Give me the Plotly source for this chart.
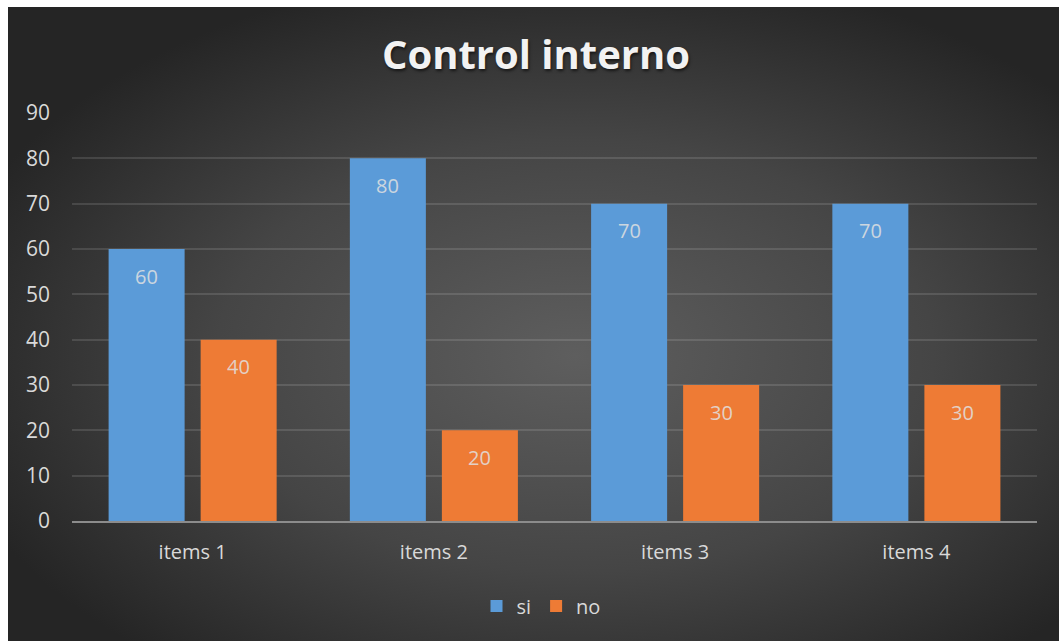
import base64
import plotly.graph_objects as go

categories = ["items 1", "items 2", "items 3", "items 4"]
si_values = [60, 80, 70, 70]
no_values = [40, 20, 30, 30]
y_ticks = [0, 10, 20, 30, 40, 50, 60, 70, 80, 90]
title_text = "Control interno"

W, H = 1059, 641
ML, MR, MT, MB = 72, 22, 113, 120
PW, PH = W - ML - MR, H - MT - MB
BARGAP, GROUPGAP = 0.237, 0.174

svg = (
    '<svg xmlns="http://www.w3.org/2000/svg" width="1000" height="600" preserveAspectRatio="none" viewBox="0 0 1000 600">'
    '<defs><radialGradient id="g" cx="54%" cy="55%" r="62%">'
    '<stop offset="0%" stop-color="#5e5e5e"/>'
    '<stop offset="55%" stop-color="#454545"/>'
    '<stop offset="100%" stop-color="#252525"/>'
    '</radialGradient></defs>'
    '<rect width="1000" height="600" fill="url(#g)"/></svg>'
)
bg_src = "data:image/svg+xml;base64," + base64.b64encode(svg.encode()).decode()

fig = go.Figure()
fig.add_trace(go.Bar(
    name="si", x=categories, y=si_values,
    marker=dict(color="#5b9bd8", line=dict(width=0)),
    textposition="none",
))
fig.add_trace(go.Bar(
    name="no", x=categories, y=no_values,
    marker=dict(color="#ee7b35", line=dict(width=0)),
    textposition="none",
))

slot = PW / len(categories) * (1 - BARGAP) / 2
for cat, s, n in zip(categories, si_values, no_values):
    for val, sh in ((s, -slot / 2), (n, slot / 2)):
        fig.add_annotation(
            x=cat, y=val, xref="x", yref="y", text=str(val), showarrow=False,
            xshift=sh, yshift=-27, yanchor="middle",
            font=dict(family="Open Sans", size=20, color="rgba(225,225,225,0.85)"),
        )

fig.update_layout(
    width=W, height=H,
    margin=dict(l=ML, r=MR, t=MT, b=MB, pad=0),
    paper_bgcolor="white",
    plot_bgcolor="rgba(0,0,0,0)",
    barmode="group", bargap=BARGAP, bargroupgap=GROUPGAP,
    title=dict(
        text=title_text, x=536 / W, xanchor="center", xref="container",
        y=1 - 55 / H, yanchor="middle", yref="container",
        font=dict(family="Open Sans", size=40, weight="bold", color="#f2f2f2",
                  shadow="1px 2px 3px rgba(0,0,0,0.6)"),
    ),
    font=dict(family="Open Sans", size=21, color="#d9d9d9"),
    showlegend=True,
    legend=dict(
        orientation="h", xref="container", yref="container",
        x=541 / W, xanchor="center", y=1 - 606 / H, yanchor="middle",
        font=dict(family="Open Sans", size=20, color="#d9d9d9"),
        bgcolor="rgba(0,0,0,0)", itemwidth=30, tracegroupgap=0,
    ),
    xaxis=dict(
        showgrid=False, showline=True, linecolor="#8c8c8c", linewidth=2,
        ticks="", ticklabelstandoff=12, zeroline=False,
        tickfont=dict(size=20),
    ),
    yaxis=dict(
        range=[0, 90], tickvals=y_ticks, showgrid=True,
        gridcolor="rgba(255,255,255,0.12)", gridwidth=1.5,
        zeroline=False, showline=False, ticks="", ticklabelstandoff=21,
    ),
    images=[dict(
        source=bg_src, xref="paper", yref="paper",
        x=(8 - ML) / PW, y=1 + (MT - 7) / PH,
        sizex=(W - 8) / PW, sizey=(H - 7) / PH,
        sizing="stretch", layer="below", xanchor="left", yanchor="top",
    )],
)

fig.write_html("out.html")
